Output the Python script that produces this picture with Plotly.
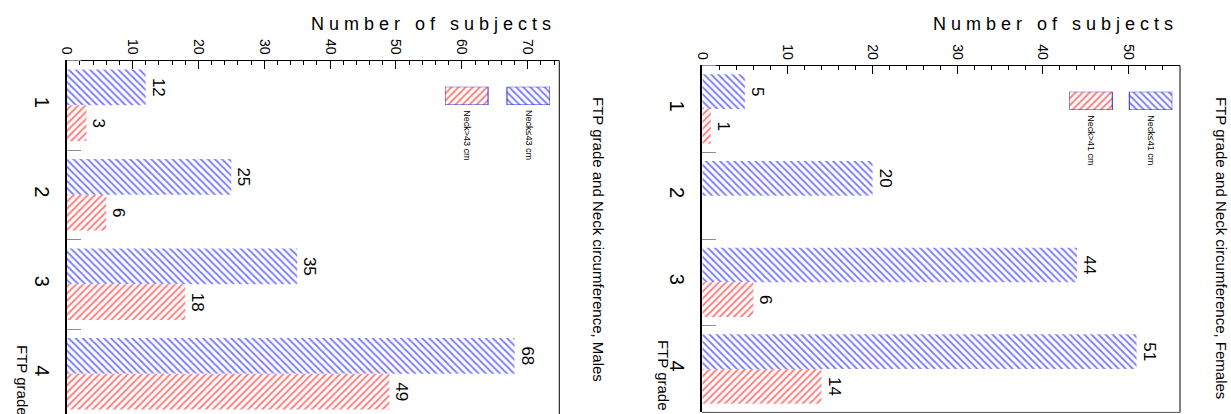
import plotly.graph_objects as go

W, H = 1231, 414

# ---------------- data ----------------
grades = [1, 2, 3, 4]
grade_labels = ["1", "2", "3", "4"]
males_small = [12, 25, 35, 68]     # Neck <= 43 cm
males_large = [3, 6, 18, 49]       # Neck > 43 cm
females_small = [5, 20, 44, 51]    # Neck <= 41 cm
females_large = [1, 0, 6, 14]      # Neck > 41 cm

titles = ["FTP grade and Neck circumference, Males",
          "FTP grade and Neck circumference, Females"]
legend_small = ["Neck\u226443 cm", "Neck\u226441 cm"]
legend_large = ["Neck>43 cm", "Neck>41 cm"]
value_title = "Number of subjects"
grade_title = "FTP grade"

# ---------------- style ----------------
SANS = "Liberation Sans, Arial, sans-serif"
BLUE = "#0000ff"
RED = "#ff0000"


def px_x(x):
    return x / W


def px_y(y):
    return 1 - y / H


# panel geometry in pixels (layout only)
panels = [
    dict(left=66.7, right=559.3, top=60.5, bottom=414.0, binpx=89.5,
         titlex=598.5, titley=95, vtx=553, vty=24, gtx=23, gty=417.5,
         leg=dict(l=445.0, r=550.0, t=86.7, b=105.0, w=43.3, step=62.3)),
    dict(left=702.3, right=1180.0, top=65.6, bottom=412.4, binpx=86.7,
         titlex=1222, titley=95, vtx=1175, vty=24, gtx=663, gty=412.4,
         leg=dict(l=1069.3, r=1172.3, t=91.7, b=110.0, w=43.0, step=60.0)),
]
series = [(males_small, males_large), (females_small, females_large)]


def marker(shape, color, outline=False):
    return dict(color="white",
                line=dict(width=1 if outline else 0, color="#2a2ad0"),
                pattern=dict(shape=shape, fgcolor=color, bgcolor="white",
                             size=5, solidity=0.4, fillmode="overlay"))


fig = go.Figure()
layout = dict(width=W, height=H, margin=dict(l=0, r=0, t=0, b=0, autoexpand=False),
              paper_bgcolor="white", plot_bgcolor="white",
              showlegend=False, barmode="overlay")
annotations = []
shapes = []

spaced_title = "\u00a0\u00a0\u00a0".join("\u00a0".join(w) for w in value_title.split())

for i, (p, (small, large)) in enumerate(zip(panels, series)):
    sx = "" if i == 0 else str(i + 1)
    xa, ya = "x" + sx, "y" + sx
    vmax = max(small + large) * 1.1
    ybot = 0.5 + (p["bottom"] - p["top"]) / p["binpx"]

    for vals, shape, col, off in [(small, "\\", BLUE, -0.4), (large, "/", RED, 0.0)]:
        fig.add_trace(go.Bar(
            x=vals, y=grades, orientation="h", width=0.4, offset=off,
            xaxis=xa, yaxis=ya, marker=marker(shape, col),
            text=[str(v) if v > 0 else "" for v in vals],
            textposition="outside", textangle=90, constraintext="none",
            cliponaxis=False,
            textfont=dict(family=SANS, size=17, color="black"),
            hoverinfo="skip"))

    layout["xaxis" + sx] = dict(
        domain=[px_x(p["left"]), px_x(p["right"])], range=[0, vmax],
        anchor=ya, side="top", showline=True, linecolor="black", linewidth=1,
        ticks="inside", ticklen=8, tickwidth=1, tickcolor="black",
        tick0=0, dtick=10, tickangle=90, automargin=False,
        tickfont=dict(family=SANS, size=14, color="black"),
        showgrid=False, zeroline=False, fixedrange=True,
        minor=dict(tick0=0, dtick=2, ticks="inside", ticklen=4,
                   tickcolor="black", tickwidth=1, showgrid=False))
    layout["yaxis" + sx] = dict(
        domain=[px_y(p["bottom"]), px_y(p["top"])], range=[ybot, 0.5],
        anchor=xa, showline=True, linecolor="black", linewidth=2,
        ticks="", tickmode="array", tickvals=grades, ticktext=grade_labels,
        tickangle=90, ticklabelstandoff=6, automargin=False,
        tickfont=dict(family=SANS, size=20, color="black"),
        showgrid=False, zeroline=False, fixedrange=True,
        minor=dict(tickmode="linear", tick0=0.5, dtick=1, ticks="inside",
                   ticklen=14, tickcolor="#8c8c8c", tickwidth=1, showgrid=False))

    shapes.append(dict(type="line", xref=xa + " domain", yref=ya + " domain",
                       x0=1, x1=1, y0=0, y1=1, line=dict(color="black", width=1)))
    if i == 1:
        shapes.append(dict(type="line", xref=xa + " domain", yref=ya + " domain",
                           x0=0, x1=1, y0=0, y1=0, line=dict(color="#555555", width=1)))

    # legend swatches (own small axes)
    lg = p["leg"]
    lx = "x" + str(i + 3)
    ly = "y" + str(i + 3)
    half = lg["w"] / 2 / lg["step"]
    for pos, shape, col in [(0, "/", RED), (1, "\\", BLUE)]:
        fig.add_trace(go.Bar(x=[pos], y=[1], width=lg["w"] / lg["step"],
                             xaxis=lx, yaxis=ly, marker=marker(shape, col, True),
                             hoverinfo="skip"))
    layout["xaxis" + str(i + 3)] = dict(domain=[px_x(lg["l"]), px_x(lg["r"])],
                                        range=[-half, 1 + half], visible=False,
                                        anchor=ly, fixedrange=True, automargin=False)
    layout["yaxis" + str(i + 3)] = dict(domain=[px_y(lg["b"]), px_y(lg["t"])],
                                        range=[0, 1], visible=False,
                                        anchor=lx, fixedrange=True, automargin=False)
    centers = [lg["l"] + lg["w"] / 2, lg["l"] + lg["step"] + lg["w"] / 2]
    for cx, txt in zip(centers, [legend_large[i], legend_small[i]]):
        annotations.append(dict(xref="paper", yref="paper", x=px_x(cx),
                                y=px_y(lg["b"] + 3), xanchor="center", yanchor="top",
                                text=txt, showarrow=False, textangle=90,
                                font=dict(family=SANS, size=9, color="black")))

    # title
    annotations.append(dict(xref="paper", yref="paper", x=px_x(p["titlex"]),
                            y=px_y(p["titley"]), xanchor="center", yanchor="top",
                            text=titles[i], showarrow=False, textangle=90,
                            font=dict(family=SANS, size=15, color="black")))
    # value axis title
    annotations.append(dict(xref="paper", yref="paper", x=px_x(p["vtx"]),
                            y=px_y(p["vty"]), xanchor="right", yanchor="middle",
                            text=spaced_title, showarrow=False,
                            font=dict(family=SANS, size=18, color="black")))
    # grade axis title
    annotations.append(dict(xref="paper", yref="paper", x=px_x(p["gtx"]),
                            y=px_y(p["gty"]), xanchor="center", yanchor="bottom",
                            text=grade_title, showarrow=False, textangle=90,
                            font=dict(family=SANS, size=15, color="black")))

layout["annotations"] = annotations
layout["shapes"] = shapes
fig.update_layout(**layout)
fig.write_html("out.html",
               config={"displayModeBar": False, "staticPlot": True},
               post_script="document.body.style.margin='0';"
                           "document.body.style.overflow='hidden';")
